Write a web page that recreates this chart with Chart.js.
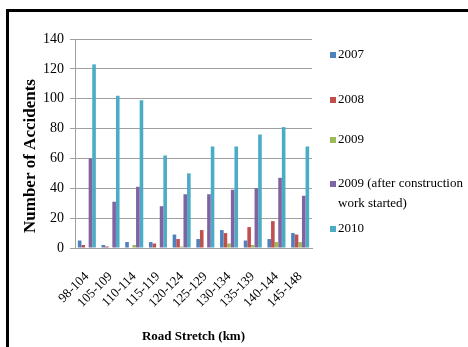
<!DOCTYPE html>
<html>
<head>
<meta charset="utf-8">
<script src="https://cdn.jsdelivr.net/npm/chart.js@4/dist/chart.umd.min.js"></script>
<style>
  html, body { margin: 0; padding: 0; background: #fff; overflow: hidden; }
  #wrap { position: relative; width: 468px; height: 347px; }
  #frame { position: absolute; left: 6px; top: 9px; right: 0; bottom: 0;
           border-left: 3px solid #000; border-top: 3px solid #000; }
  #c { position: absolute; left: 0; top: 0; }
</style>
</head>
<body>
<div id="wrap">
  <div id="frame"></div>
  <canvas id="c" width="468" height="347"></canvas>
</div>
<script>
// Road stretches (km) along the corridor
const stretches = ['98-104', '105-109', '110-114', '115-119', '120-124',
                   '125-129', '130-134', '135-139', '140-144', '145-148'];

// Accidents per stretch, by year
const acc2007 = [5, 2, 4, 4, 9, 6, 12, 5, 6, 10];
const acc2008 = [2, 1, 0, 3, 6, 12, 10, 14, 18, 9];
const acc2009 = [0, 0, 2, 0, 1, 0, 3, 2, 4, 4];
const acc2009After = [60, 31, 41, 28, 36, 36, 39, 40, 47, 35];
const acc2010 = [123, 102, 99, 62, 50, 68, 68, 76, 81, 68];

const seriesNames = ['2007', '2008', '2009', '2009 (after construction work started)', '2010'];
const seriesColors = ['#4F81BD', '#C0504D', '#9BBB59', '#8064A2', '#4BACC6'];
const yTicks = [0, 20, 40, 60, 80, 100, 120, 140];
const yTitle = 'Number of Accidents';

const serif = '"Liberation Serif", "Times New Roman", serif';

// Legend drawn on the right side, one entry per series
const sideLegend = {
  id: 'sideLegend',
  afterDraw(chart, args, opts) {
    const ctx = chart.ctx;
    ctx.save();
    ctx.font = '13px ' + serif;
    ctx.textBaseline = 'middle';
    ctx.textAlign = 'left';
    chart.data.datasets.forEach((ds, i) => {
      const y = opts.rows[i];
      ctx.fillStyle = ds.backgroundColor;
      ctx.fillRect(opts.x, y - 3, 6, 6);
      ctx.fillStyle = '#000';
      // wrap long names onto a second line
      const words = ds.label.split(' ');
      const lines = [];
      let cur = '';
      words.forEach(w => {
        const t = cur ? cur + ' ' + w : w;
        if (ctx.measureText(t).width > opts.maxWidth && cur) { lines.push(cur); cur = w; }
        else cur = t;
      });
      lines.push(cur);
      lines.forEach((ln, k) => ctx.fillText(ln, opts.x + 8, y + k * opts.lineGap));
    });
    ctx.restore();
  }
};

// Vertical axis title, rotated, starting just above the zero line
const yAxisTitle = {
  id: 'yAxisTitle',
  afterDraw(chart, args, opts) {
    const ctx = chart.ctx;
    ctx.save();
    ctx.font = 'bold 17px ' + serif;
    ctx.fillStyle = '#000';
    ctx.textAlign = 'left';
    ctx.textBaseline = 'middle';
    ctx.translate(opts.x, chart.chartArea.bottom - opts.inset);
    ctx.rotate(-Math.PI / 2);
    ctx.fillText(opts.text, 0, 0);
    ctx.restore();
  }
};

new Chart(document.getElementById('c'), {
  type: 'bar',
  data: {
    labels: stretches,
    datasets: [acc2007, acc2008, acc2009, acc2009After, acc2010].map((d, i) => ({
      label: seriesNames[i],
      data: d,
      backgroundColor: seriesColors[i],
      borderWidth: 0,
      categoryPercentage: 0.76,
      barPercentage: 1.0
    }))
  },
  options: {
    responsive: false,
    animation: false,
    layout: { padding: { left: 10, top: 39, right: 156, bottom: 0 } },
    plugins: {
      legend: { display: false },
      tooltip: { enabled: false },
      sideLegend: { x: 330, rows: [55, 100, 140, 184, 229], lineGap: 20, maxWidth: 130 },
      yAxisTitle: { text: yTitle, x: 31, inset: 15 }
    },
    scales: {
      x: {
        grid: { display: false, drawTicks: false },
        border: { display: true, color: '#a0a0a0', width: 1 },
        ticks: {
          color: '#000', font: { family: serif, size: 13 },
          minRotation: 45, maxRotation: 45, padding: 21, autoSkip: false
        },
        title: {
          display: true, text: 'Road Stretch (km)', color: '#000',
          font: { family: serif, size: 13, weight: 'bold' },
          padding: { top: 0, bottom: 3 }
        },
        afterFit(s) { s.height = 99; }
      },
      y: {
        min: 0, max: 140,
        afterBuildTicks(s) { s.ticks = yTicks.map(v => ({ value: v })); },
        grid: { color: '#a0a0a0', lineWidth: 1, drawTicks: true, tickLength: 5 },
        border: { display: true, color: '#a0a0a0', width: 1 },
        ticks: { color: '#000', font: { family: serif, size: 14 }, padding: 6 },
        title: { display: false },
        afterFit(s) { s.width = 65; }
      }
    }
  },
  plugins: [sideLegend, yAxisTitle]
});
</script>
</body>
</html>
